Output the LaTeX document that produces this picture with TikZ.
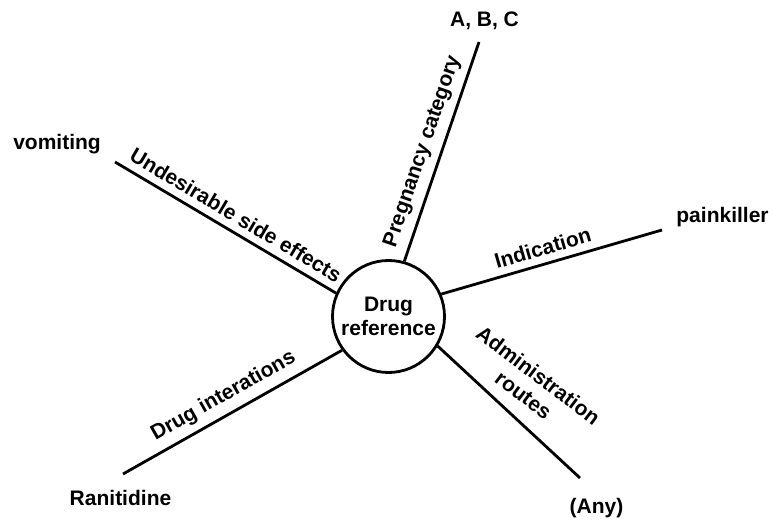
\documentclass[tikz,border=0pt]{standalone}
\usepackage{fontspec}
\setmainfont{Liberation Sans}
\begin{document}
\begin{tikzpicture}[x=1pt,y=-1pt,
  spoke/.style={line width=2.8pt},
  lbl/.style={font=\bfseries\fontsize{21}{24.5}\selectfont},
  tag/.style={lbl, sloped, above=7pt, inner sep=0pt}]
\useasboundingbox (0,0) rectangle (773,521);

% central topic
\node[draw, circle, line width=2.8pt, minimum size=112pt, inner sep=0pt,
      lbl, align=center] (c) at (388.5,316.5) {Drug\\reference};

% outer ends of the spokes
\coordinate (pe) at (479,42);
\coordinate (vo) at (115,162);
\coordinate (pk) at (662,230);
\coordinate (dr) at (123,474);
\coordinate (an) at (580,478);

% values at the spoke ends
\node[lbl, anchor=base] (abc) at (484.5,27) {A, B, C};
\node[lbl, anchor=base] (vom) at (57,150) {vomiting};
\node[lbl, anchor=base] (pain) at (722.5,223) {painkiller};
\node[lbl, anchor=base] (ran) at (120.5,505) {Ranitidine};
\node[lbl, anchor=base] (any) at (596.5,513) {(Any)};

% spokes with their attribute names
\draw[spoke] (c.74.7) -- (pe) node[tag, pos=0.475] {Pregnancy category};
\draw[spoke] (vo) -- (c.156.2) node[tag, pos=0.51] {Undesirable side effects};
\draw[spoke] (c.23.7) -- (pk) node[tag, pos=0.48] {Indication};
\draw[spoke] (dr) -- (c.216.2) node[tag, pos=0.50] {Drug interations};
\draw[spoke] (c.329) -- (an);
\node[lbl, rotate=-37, align=center, inner sep=0pt] (adm) at (531,385)
  {Administration\\routes};
\end{tikzpicture}
\end{document}
